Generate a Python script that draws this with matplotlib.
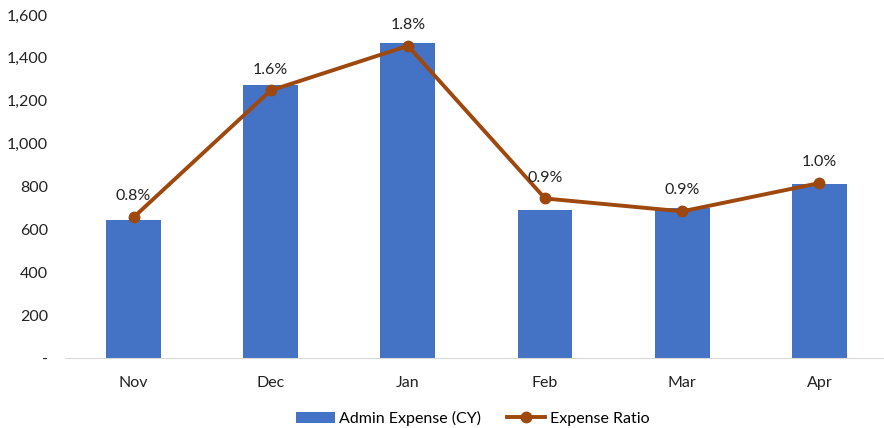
import matplotlib.pyplot as plt
from matplotlib.ticker import FuncFormatter

plt.rcParams['font.family'] = ['Lato', 'DejaVu Sans']

months = ["Nov", "Dec", "Jan", "Feb", "Mar", "Apr"]
admin_expense = [645, 1275, 1470, 690, 700, 812]
expense_ratio = [0.82, 1.56, 1.82, 0.93, 0.855, 1.02]  # percent

fig = plt.figure(figsize=(8.84, 4.28), dpi=100)
ax = fig.add_axes([0.0735, 0.1636, 0.931, 0.8014])

x = list(range(len(months)))
ax.bar(x, admin_expense, width=0.4, color="#4472C4", label="Admin Expense (CY)", zorder=2)
ax.set_xlim(-0.5, len(months) - 0.5)
ax.set_ylim(0, 1600)
ax.set_yticks(range(0, 1601, 200))
ax.yaxis.set_major_formatter(FuncFormatter(lambda v, p: "-" if v == 0 else f"{int(v):,}"))
ax.set_xticks(x)
ax.set_xticklabels(months)
ax.tick_params(axis="both", length=0, labelsize=11.5, colors="#222222")
ax.tick_params(axis="y", pad=12)
ax.tick_params(axis="x", pad=13)
for s in ["top", "right", "left"]:
    ax.spines[s].set_visible(False)
ax.spines["bottom"].set_color("#d9d9d9")

ax2 = ax.twinx()
ax2.set_ylim(0, 2.0)
ax2.plot(x, expense_ratio, color="#9E480E", linewidth=2.8, marker="o", markersize=7.5,
         label="Expense Ratio", zorder=3)
ax2.axis("off")
for xi, r in zip(x, expense_ratio):
    ax2.annotate(f"{round(r + 1e-9, 1):.1f}%", (xi, r), xytext=(0, 10), textcoords="offset points",
                 ha="center", va="bottom", fontsize=11.5, color="#222222")

h1, l1 = ax.get_legend_handles_labels()
h2, l2 = ax2.get_legend_handles_labels()
fig.legend(h1 + h2, l1 + l2, loc="center", bbox_to_anchor=(0.535, 0.023), ncol=2,
           frameon=False, fontsize=11.5, handlelength=2.4, columnspacing=1.6, handletextpad=0.3)

fig.savefig("out.png", dpi=100)
